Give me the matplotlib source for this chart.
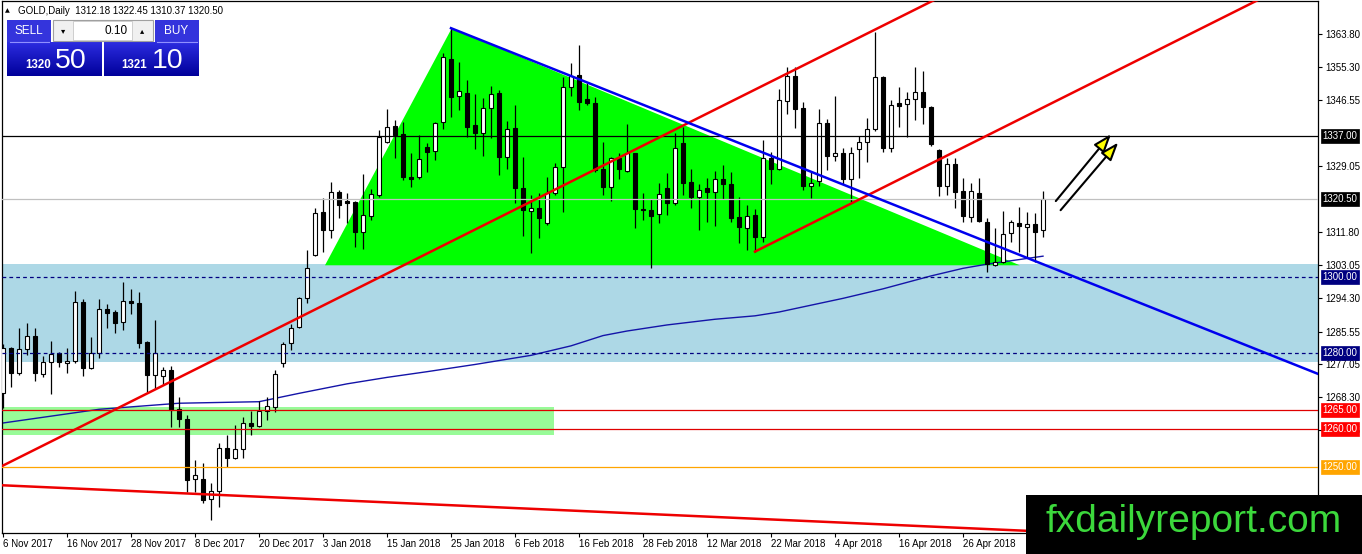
import matplotlib
matplotlib.use('Agg')
import matplotlib.pyplot as plt
import numpy as np
from matplotlib.patches import Rectangle, Polygon
from matplotlib.colors import LinearSegmentedColormap

plt.rcParams['font.family'] = ['Liberation Sans', 'DejaVu Sans']

# ---------------- data ----------------
opens = [1269.5, 1281.2, 1274.6, 1280.9, 1284.4, 1274.3, 1277.5, 1279.8, 1277.2, 1277.8,
         1293.3, 1276.1, 1279.8, 1291.4, 1290.7, 1288.0, 1293.6, 1293.2, 1282.9, 1274.1,
         1273.9, 1275.4, 1265.1, 1262.5, 1246.7, 1246.7, 1241.4, 1243.7, 1254.8, 1252.2,
         1254.6, 1261.4, 1260.8, 1264.7, 1265.8, 1277.4, 1282.5, 1286.7, 1294.3, 1305.7,
         1316.9, 1312.3, 1322.2, 1319.9, 1319.7, 1311.8, 1316.0, 1321.6, 1335.5, 1339.7,
         1337.6, 1326.3, 1326.2, 1334.0, 1333.1, 1340.6, 1357.2, 1347.5, 1348.3, 1339.9,
         1337.7, 1344.3, 1348.4, 1331.4, 1339.1, 1323.3, 1317.4, 1318.0, 1314.2, 1321.9,
         1328.8, 1349.8, 1353.1, 1346.7, 1345.6, 1328.3, 1323.7, 1331.2, 1327.8, 1332.5,
         1317.7, 1317.6, 1316.4, 1323.3, 1319.5, 1335.1, 1325.0, 1321.1, 1323.3, 1322.2,
         1325.7, 1324.5, 1315.8, 1312.7, 1316.2, 1310.4, 1331.3, 1328.3, 1346.3, 1352.8,
         1344.3, 1323.9, 1325.2, 1340.4, 1331.8, 1332.5, 1325.7, 1333.5, 1335.5, 1338.8,
         1352.5, 1333.9, 1345.8, 1345.4, 1346.7, 1348.6, 1344.7, 1333.3, 1323.9, 1329.6,
         1322.6, 1315.8, 1321.9, 1314.5, 1303.1, 1303.9, 1311.4, 1314.0, 1313.2, 1313.8,
         1312.18]
highs = [1282.2, 1281.5, 1286.4, 1287.9, 1286.4, 1279.1, 1283.2, 1280.2, 1281.2, 1296.2,
         1294.1, 1284.1, 1294.1, 1292.7, 1291.2, 1298.5, 1296.7, 1296.1, 1283.1, 1288.6,
         1276.3, 1276.5, 1268.4, 1263.6, 1251.8, 1250.9, 1245.6, 1256.3, 1258.3, 1261.0,
         1263.2, 1264.7, 1267.4, 1268.4, 1275.4, 1282.9, 1287.6, 1294.7, 1307.0, 1318.0,
         1320.6, 1325.0, 1322.8, 1321.9, 1319.9, 1327.0, 1323.2, 1338.6, 1344.1, 1341.2,
         1340.8, 1332.5, 1337.3, 1335.3, 1340.8, 1358.9, 1365.4, 1356.6, 1351.8, 1348.1,
         1347.0, 1350.2, 1349.0, 1341.0, 1345.2, 1331.6, 1321.5, 1321.9, 1326.3, 1330.0,
         1352.6, 1356.3, 1361.0, 1350.9, 1347.4, 1335.5, 1331.6, 1332.5, 1340.2, 1332.6,
         1321.9, 1320.4, 1324.6, 1327.2, 1337.7, 1339.3, 1328.3, 1324.3, 1325.9, 1327.8,
         1329.4, 1327.5, 1321.1, 1318.9, 1317.8, 1336.0, 1332.9, 1349.4, 1355.1, 1355.1,
         1346.1, 1327.5, 1344.1, 1341.5, 1347.6, 1333.9, 1334.2, 1337.1, 1341.7, 1364.5,
         1352.7, 1346.5, 1350.0, 1348.7, 1355.1, 1354.0, 1344.9, 1333.5, 1331.3, 1331.3,
         1325.9, 1324.6, 1326.1, 1315.5, 1312.7, 1317.3, 1314.9, 1318.4, 1317.1, 1316.7,
         1322.45]
lows = [1265.4, 1271.1, 1274.0, 1279.4, 1272.6, 1273.7, 1269.1, 1276.3, 1274.6, 1277.4,
        1273.9, 1275.6, 1278.5, 1286.4, 1285.1, 1286.0, 1290.1, 1281.3, 1269.7, 1270.4,
        1271.5, 1260.4, 1260.5, 1243.4, 1243.4, 1240.4, 1236.0, 1239.5, 1250.0, 1252.0,
        1252.2, 1258.3, 1260.5, 1262.3, 1264.5, 1276.3, 1280.7, 1286.4, 1293.2, 1305.4,
        1306.6, 1310.1, 1315.4, 1314.0, 1307.9, 1307.2, 1314.9, 1321.1, 1335.1, 1331.2,
        1325.4, 1323.5, 1325.6, 1327.6, 1330.7, 1338.8, 1342.1, 1343.9, 1336.8, 1333.5,
        1331.8, 1336.4, 1326.8, 1328.3, 1319.5, 1310.6, 1306.2, 1310.1, 1313.6, 1321.5,
        1317.1, 1347.5, 1343.9, 1345.2, 1327.6, 1321.5, 1319.9, 1325.6, 1327.6, 1312.7,
        1314.9, 1302.2, 1314.2, 1316.2, 1318.9, 1321.5, 1318.2, 1312.3, 1314.3, 1313.3,
        1320.5, 1314.4, 1308.8, 1307.0, 1306.6, 1309.1, 1324.3, 1328.0, 1342.8, 1339.0,
        1322.8, 1320.6, 1323.9, 1328.1, 1330.4, 1324.3, 1319.7, 1326.1, 1330.3, 1338.3,
        1332.9, 1332.9, 1339.5, 1336.8, 1341.2, 1340.1, 1334.5, 1321.3, 1321.5, 1318.0,
        1314.5, 1314.5, 1314.3, 1301.3, 1302.9, 1303.6, 1309.2, 1306.6, 1304.8, 1303.8,
        1310.37]
closes = [1281.2, 1274.6, 1280.9, 1284.4, 1274.7, 1277.5, 1279.6, 1277.5, 1277.8, 1293.3,
          1276.1, 1279.8, 1291.4, 1290.4, 1287.7, 1293.7, 1293.2, 1282.6, 1274.1, 1279.8,
          1275.4, 1264.9, 1262.5, 1246.5, 1247.8, 1241.2, 1243.7, 1254.8, 1252.2, 1254.6,
          1261.4, 1260.8, 1264.7, 1266.0, 1274.4, 1282.3, 1286.4, 1294.3, 1302.2, 1316.7,
          1312.3, 1322.2, 1318.9, 1319.5, 1311.8, 1316.2, 1321.7, 1336.8, 1339.3, 1337.3,
          1326.2, 1325.8, 1330.9, 1332.9, 1340.5, 1357.7, 1347.4, 1348.9, 1339.5, 1337.7,
          1344.3, 1348.1, 1331.6, 1338.8, 1323.3, 1317.6, 1318.0, 1315.4, 1321.9, 1328.8,
          1349.8, 1352.8, 1346.1, 1345.6, 1328.1, 1323.7, 1331.2, 1328.3, 1332.5, 1317.7,
          1317.5, 1316.1, 1321.8, 1319.5, 1333.8, 1324.7, 1321.1, 1322.7, 1322.2, 1325.7,
          1324.3, 1315.4, 1313.0, 1316.1, 1310.4, 1331.3, 1328.3, 1346.5, 1352.9, 1344.1,
          1323.9, 1324.6, 1340.4, 1331.8, 1332.6, 1325.7, 1332.5, 1335.4, 1338.8, 1352.5,
          1333.9, 1345.2, 1345.0, 1346.7, 1348.6, 1344.7, 1334.8, 1323.9, 1329.6, 1322.4,
          1316.1, 1322.6, 1314.7, 1303.3, 1303.9, 1311.2, 1314.3, 1313.4, 1313.8, 1311.8,
          1320.50]

date_label_bars = [0, 8, 16, 24, 32, 40, 48, 56, 64, 72, 80, 88, 96, 104, 112, 120]
date_labels = ['6 Nov 2017', '16 Nov 2017', '28 Nov 2017', '8 Dec 2017', '20 Dec 2017',
               '3 Jan 2018', '15 Jan 2018', '25 Jan 2018', '6 Feb 2018', '16 Feb 2018',
               '28 Feb 2018', '12 Mar 2018', '22 Mar 2018', '4 Apr 2018', '16 Apr 2018',
               '26 Apr 2018']

ma_bars = [0, 12, 22, 32, 37, 43, 48, 53, 59, 66, 71, 75, 78, 83, 89, 94, 97, 105, 110,
           116, 120, 123, 130]
ma_values = [1261.5, 1265.1, 1266.7, 1267.1, 1269.3, 1271.8, 1273.5, 1275.0, 1276.9, 1279.3,
             1281.8, 1284.5, 1285.7, 1287.3, 1288.8, 1289.7, 1290.7, 1294.3, 1296.8, 1300.2,
             1302.2, 1303.3, 1305.4]

price_ticks = [1363.80, 1355.30, 1346.55, 1329.05, 1311.80, 1303.05, 1294.30, 1285.55,
               1277.05, 1268.30, 1259.55]

blue_zone = [1277.5, 1303.3]
green_zone = [1258.3, 1265.8]
green_zone_end = 68.9

triangle_bars = [40.25, 56.1, 127.1]
triangle_prices = [1303.0, 1365.4, 1303.0]

blue_trend_bars = [56.0, 170.0]
blue_trend_prices = [1365.4, 1269.7]
red_up1_bars = [0.0, 120.0]
red_up1_prices = [1250.3, 1376.6]
red_up2_bars = [94.0, 160.0]
red_up2_prices = [1306.6, 1376.1]
red_down_bars = [0.0, 140.0]
red_down_prices = [1245.1, 1232.0]

arrow_starts = [(131.6, 1319.9), (132.2, 1317.5)]
arrow_tips = [(138.5, 1337.5), (139.4, 1335.3)]

levels = [1337.00, 1320.50, 1300.00, 1280.00, 1265.00, 1260.00, 1250.00]
level_colors = ['black', '#c0c0c0', '#000080', '#000080', '#e00000', '#e00000', '#ffa500']
level_styles = ['-', '-', (0, (3, 2.5)), (0, (3, 2.5)), '-', '-', '-']
level_box_colors = ['black', 'black', '#000080', '#000080', '#ff0000', '#ff0000', '#ffa500']

header = 'GOLD,Daily  1312.18 1322.45 1310.37 1320.50'
sell_big, sell_small = '50', '1320'
buy_big, buy_small = '10', '1321'
lot = '0.10'

# ---------------- figure ----------------
W, H = 1362, 554
fig = plt.figure(figsize=(W / 100, H / 100), dpi=100)
fig.patch.set_facecolor('white')
ax = fig.add_axes([2 / W, 21 / H, 1316 / W, 532 / H])
ax.set_xlim(-0.125, 164.375)
ax.set_ylim(1232.55, 1372.55)
ax.set_facecolor('white')

o = np.array(opens); h = np.array(highs); l = np.array(lows); c = np.array(closes)
x = np.arange(len(o))

# background objects
ax.axhspan(blue_zone[0], blue_zone[1], color='#add8e6', zorder=1, lw=0)
ax.fill_between([-1, green_zone_end], green_zone[0], green_zone[1], color='#98fb98', lw=0, zorder=1)
ax.add_patch(Polygon(list(zip(triangle_bars, triangle_prices)), closed=True,
                     facecolor='#00ff00', edgecolor='none', zorder=1.5))

# moving average
ax.plot(ma_bars, ma_values, color='#1414a8', lw=1.0, zorder=2)

# candles
ax.vlines(x, l, h, color='black', lw=0.9, zorder=3)
up = c >= o
bottom = np.minimum(o, c)
height = np.maximum(np.abs(c - o), 0.3)
ax.bar(x[up], height[up], bottom=bottom[up], width=0.62, color='white',
       edgecolor='black', linewidth=0.8, zorder=3.5)
ax.bar(x[~up], height[~up], bottom=bottom[~up], width=0.62, color='black',
       edgecolor='black', linewidth=0.8, zorder=3.5)

# horizontal levels
for lv, col, ls in zip(levels, level_colors, level_styles):
    ax.axhline(lv, color=col, lw=0.9, ls=ls, zorder=4)

# trendlines
ax.plot(red_up1_bars, red_up1_prices, color='#ee0000', lw=1.8, zorder=5)
ax.plot(red_up2_bars, red_up2_prices, color='#ee0000', lw=1.8, zorder=5)
ax.plot(red_down_bars, red_down_prices, color='#ee0000', lw=1.8, zorder=5)
ax.plot(blue_trend_bars, blue_trend_prices, color='#0000ee', lw=1.8, zorder=5)

# arrows
for s, t in zip(arrow_starts, arrow_tips):
    ax.annotate('', xy=t, xytext=s,
                arrowprops=dict(arrowstyle='-|>,head_length=1.1,head_width=0.4',
                                fc='#ffff00', ec='black', lw=1.5, mutation_scale=10,
                                shrinkA=0, shrinkB=0), zorder=6)

# axes styling
for sp in ax.spines.values():
    sp.set_color('black'); sp.set_linewidth(0.9)
ax.yaxis.tick_right()
ax.set_yticks(price_ticks)
ax.set_yticklabels([f'{p:.2f}' for p in price_ticks])
ax.tick_params(axis='y', direction='out', length=3, width=0.8, pad=2, labelsize=7,
               colors='black')
ax.set_xticks(date_label_bars)
ax.set_xticklabels(date_labels)
for lbl in ax.get_xticklabels():
    lbl.set_ha('left')
ax.tick_params(axis='x', direction='out', length=3, width=0.8, pad=1, labelsize=7,
               colors='black')

# level price boxes on the axis
for lv, bc in zip(levels, level_box_colors):
    ax.annotate(f'{lv:.2f}', xy=(1.0, lv), xycoords=('axes fraction', 'data'),
                xytext=(3.2, 0), textcoords='offset points', ha='left', va='center',
                fontsize=7, color='white', annotation_clip=False, zorder=10,
                bbox=dict(boxstyle='square,pad=0.2', fc=bc, ec=bc, lw=0.5))

# ---------------- overlay (UI panel, watermark) ----------------
ov = fig.add_axes([0, 0, 1, 1])
ov.set_zorder(20)
ov.axis('off')

blue_cmap = LinearSegmentedColormap.from_list('b', ['#2c2ce0', '#00009a'])
grad = np.linspace(0, 1, 60).reshape(-1, 1)
for (x0, x1) in [(7, 102), (104, 199)]:
    ov.imshow(grad, extent=(x0, x1, 76, 42), origin='upper', aspect='auto', cmap=blue_cmap,
              zorder=1)
ov.add_patch(Rectangle((7, 20), 44, 22, fc='#3434dc', ec='none', zorder=1))
ov.add_patch(Rectangle((155, 20), 44, 22, fc='#3434dc', ec='none', zorder=1))
ov.plot([10, 49], [41.5, 41.5], color='#9090ff', lw=0.8, zorder=2)
ov.plot([157, 197], [41.5, 41.5], color='#9090ff', lw=0.8, zorder=2)
# spinner
ov.add_patch(Rectangle((53, 20), 100, 21, fc='#f0f0f0', ec='#a0a0a0', lw=0.8, zorder=1))
ov.add_patch(Rectangle((73, 21), 59, 19, fc='white', ec='#c8c8c8', lw=0.6, zorder=2))
ov.text(63, 31, '▾', ha='center', va='center', fontsize=6, color='black',
        family='DejaVu Sans', zorder=3)
ov.text(142, 31, '▴', ha='center', va='center', fontsize=6, color='black',
        family='DejaVu Sans', zorder=3)
ov.text(128, 31, lot, ha='right', va='center', fontsize=8.5, color='black', zorder=3)
ov.text(29, 31, 'SELL', ha='center', va='center', fontsize=8.5, color='white', zorder=3)
ov.text(176, 31, 'BUY', ha='center', va='center', fontsize=8.5, color='white', zorder=3)
ov.text(51, 68.5, sell_small, ha='right', va='baseline', fontsize=8.3, color='white',
        fontweight='bold', zorder=3)
ov.text(55, 68.5, sell_big, ha='left', va='baseline', fontsize=20.5, color='white', zorder=3)
ov.text(147, 68.5, buy_small, ha='right', va='baseline', fontsize=8.3, color='white',
        fontweight='bold', zorder=3)
ov.text(152, 68.5, buy_big, ha='left', va='baseline', fontsize=20.5, color='white', zorder=3)
# header
ov.text(5, 11, '▲', ha='left', va='center', fontsize=4.5, color='black',
        family='DejaVu Sans', zorder=3)
ov.text(18, 11, header, ha='left', va='center', fontsize=7, color='black', zorder=3)

# watermark
ov.add_patch(Rectangle((1026, 495), 336, 59, fc='black', ec='none', zorder=5))
ov.text(1194, 522, 'fxdailyreport.com', ha='center', va='center', fontsize=28,
        color='#3cd83c', zorder=6)

ov.set_xlim(0, W)
ov.set_ylim(H, 0)

fig.savefig('out.png', dpi=100)
